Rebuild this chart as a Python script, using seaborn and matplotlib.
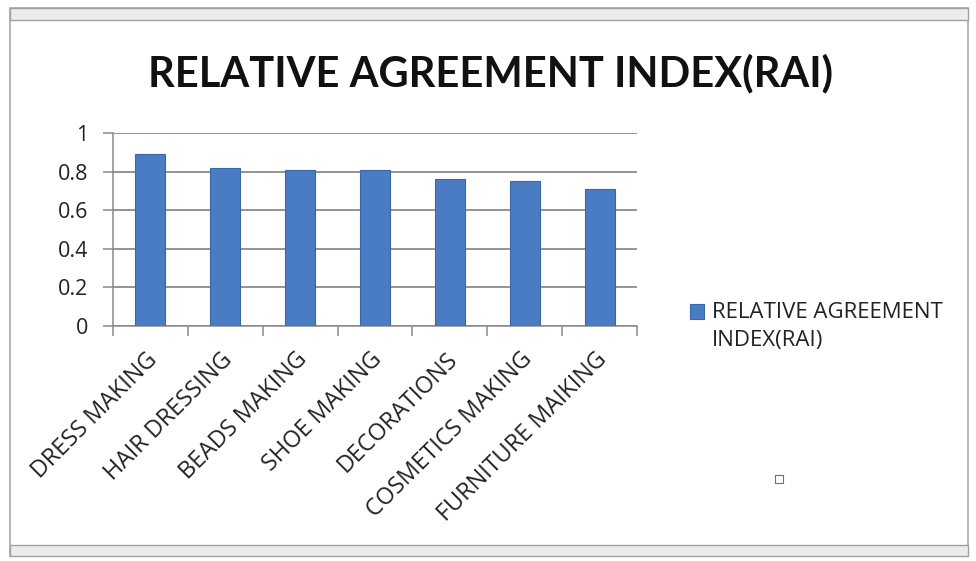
import matplotlib
matplotlib.use("Agg")
import matplotlib.pyplot as plt
from matplotlib.patches import Rectangle
from matplotlib.transforms import ScaledTranslation
import seaborn as sns

# Relative agreement index per trade
categories = ["DRESS MAKING", "HAIR DRESSING", "BEADS MAKING", "SHOE MAKING",
              "DECORATIONS", "COSMETICS MAKING", "FURNITURE MAIKING"]
rai_values = [0.89, 0.82, 0.81, 0.81, 0.76, 0.75, 0.71]
y_ticks = [0, 0.2, 0.4, 0.6, 0.8, 1]
y_tick_labels = ["0", "0.2", "0.4", "0.6", "0.8", "1"]
chart_title = "RELATIVE AGREEMENT INDEX(RAI)"
series_name = "RELATIVE AGREEMENT\nINDEX(RAI)"

sns.set_theme(style="white")
plt.rcParams["font.family"] = ["Open Sans", "DejaVu Sans"]

W, H = 976, 561
fig = plt.figure(figsize=(W / 100, H / 100), dpi=100)
fig.patch.set_facecolor("white")


def px(x0, y0, x1, y1):
    """Pixel box (top-left origin) -> figure fraction rectangle."""
    return (x0 / W, 1 - y1 / H, (x1 - x0) / W, (y1 - y0) / H)


# window-like frame around the chart
x, y, w, h = px(10, 8, 968, 556)
fig.patches.append(Rectangle((x, y), w, h, transform=fig.transFigure,
                             facecolor="white", edgecolor="#a8a8a8", lw=1.2, zorder=-3))
x, y, w, h = px(10, 8, 968, 20)
fig.patches.append(Rectangle((x, y), w, h, transform=fig.transFigure,
                             facecolor="#ececec", edgecolor="#a0a0a0", lw=1.0, zorder=-2))
x, y, w, h = px(10, 545, 968, 556)
fig.patches.append(Rectangle((x, y), w, h, transform=fig.transFigure,
                             facecolor="#ececec", edgecolor="#a0a0a0", lw=1.0, zorder=-2))
# small square handle
x, y, w, h = px(775, 475, 783, 483)
fig.patches.append(Rectangle((x, y), w, h, transform=fig.transFigure,
                             facecolor="white", edgecolor="#707070", lw=0.8, zorder=-1))

ax = fig.add_axes(px(113, 133.3, 637, 325.5))
ax.set_facecolor("none")

sns.barplot(x=categories, y=rai_values, color="#4a7cc4", width=0.4,
            saturation=1, edgecolor="#3a66aa", linewidth=0.8, ax=ax, zorder=3)

ax.set_xlim(-0.5, len(categories) - 0.5)
ax.set_ylim(0, 1)
ax.set_yticks(y_ticks)
ax.set_yticklabels(y_tick_labels)
ax.yaxis.grid(True, color="#777777", lw=1.1)
ax.set_axisbelow(True)
for side in ["top", "right"]:
    ax.spines[side].set_visible(False)
for side in ["left", "bottom"]:
    ax.spines[side].set_color("#8a8a8a")
    ax.spines[side].set_linewidth(1.1)

ax.tick_params(axis="y", which="major", left=True, length=7, width=1.1,
               color="#8a8a8a", pad=11, labelsize=15.5, labelcolor="#222222")
# category boundary tick marks below the x axis
ax.set_xticks([i - 0.5 for i in range(len(categories) + 1)], minor=True)
ax.tick_params(axis="x", which="minor", bottom=True, length=7, width=1.1, color="#8a8a8a")
ax.tick_params(axis="x", which="major", bottom=False, length=0, pad=22,
               labelsize=16.8, labelcolor="#222222")
shift = ScaledTranslation(0.04, 0, fig.dpi_scale_trans)
for lab in ax.get_xticklabels():
    lab.set_rotation(45)
    lab.set_ha("right")
    lab.set_va("center")
    lab.set_rotation_mode("anchor")
    lab.set_transform(lab.get_transform() + shift)
ax.set_xlabel("")
ax.set_ylabel("")

fig.text(490 / W, 1 - 73 / H, chart_title, ha="center", va="center",
         fontsize=30, fontweight="bold", color="#111111", family=["Lato", "DejaVu Sans"])

leg = fig.legend(handles=[ax.patches[0]], labels=[series_name],
                 loc="upper left", bbox_to_anchor=(679 / W, 1 - 291 / H),
                 frameon=False, fontsize=16, handlelength=0.63, handleheight=0.63,
                 handletextpad=0.36, borderpad=0)
for t in leg.get_texts():
    t.set_color("#222222")
    t.set_linespacing(1.45)
# line the swatch up with the first line of the label
handle = leg.legend_handles[0]
handle.set_y(handle.get_y() + 11)

fig.savefig("out.png", dpi=100)
